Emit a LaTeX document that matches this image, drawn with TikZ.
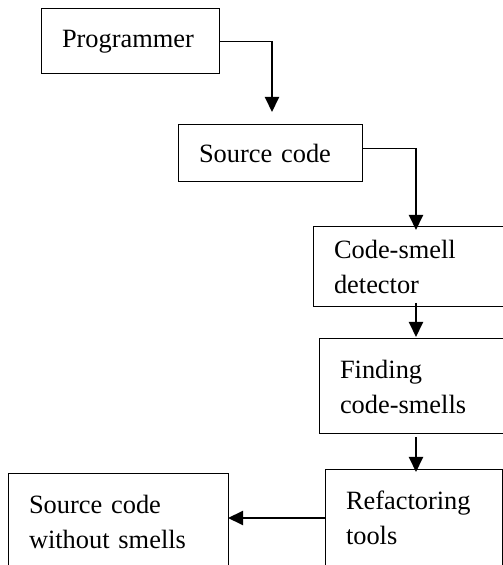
\documentclass[tikz,border=0pt]{standalone}
\usepackage{fontspec}
\setmainfont{Liberation Serif}
\usepackage{tikz}
\usetikzlibrary{arrows.meta, positioning, calc}
\tikzset{
  block/.style={rectangle, draw=black, line width=1pt, align=left,
    anchor=north west, inner xsep=21pt, inner ysep=0pt, outer sep=0pt,
    font=\fontsize{26.4}{35}\selectfont},
  arrow/.style={-{Triangle[width=14pt,length=15pt]}, line width=2pt, color=black},
  line/.style={line width=1.2pt, color=black}
}

\begin{document}
\begin{tikzpicture}[x=1pt, y=1pt]
  \useasboundingbox (0,0) rectangle (503,565);
  \clip (0,0) rectangle (503,565);

  % Boxes
  \node[block, text width=136pt, minimum height=65pt] (prog) at (41,556) {Programmer};
  \node[block, text width=142pt, minimum height=57pt] (src) at (178,440) {Source code};
  \node[block, text width=158pt, minimum height=80pt] (det) at (313,338) {Code-smell\\detector};
  \node[block, text width=158pt, minimum height=95pt] (find) at (319,226) {Finding\\code-smells};
  \node[block, text width=135pt, minimum height=96pt] (ref) at (325,95) {Refactoring\\tools};
  \node[block, text width=178pt, minimum height=96pt] (clean) at (8,91) {Source code\\without smells};

  % Columns of the vertical arrows
  \coordinate (c1) at (272,0);
  \coordinate (c2) at (416,0);

  % Connections
  \draw[line] (prog.east) -- (prog.east -| c1);
  \draw[arrow, shorten >=13pt] (prog.east -| c1) -- (src.north -| c1);
  \draw[line] ([yshift=5pt]src.east) -- ([yshift=5pt]src.east -| c2);
  \draw[arrow, shorten >=-3pt] ([yshift=5pt]src.east -| c2) -- (det.north -| c2);
  \draw[arrow, shorten <=-4pt, shorten >=2pt] (det.south -| c2) -- (find.north -| c2);
  \draw[arrow, shorten <=3pt, shorten >=-2pt] (find.south -| c2) -- (ref.north -| c2);
  \draw[arrow] (ref.west) -- (ref.west -| clean.east);
\end{tikzpicture}
\end{document}
